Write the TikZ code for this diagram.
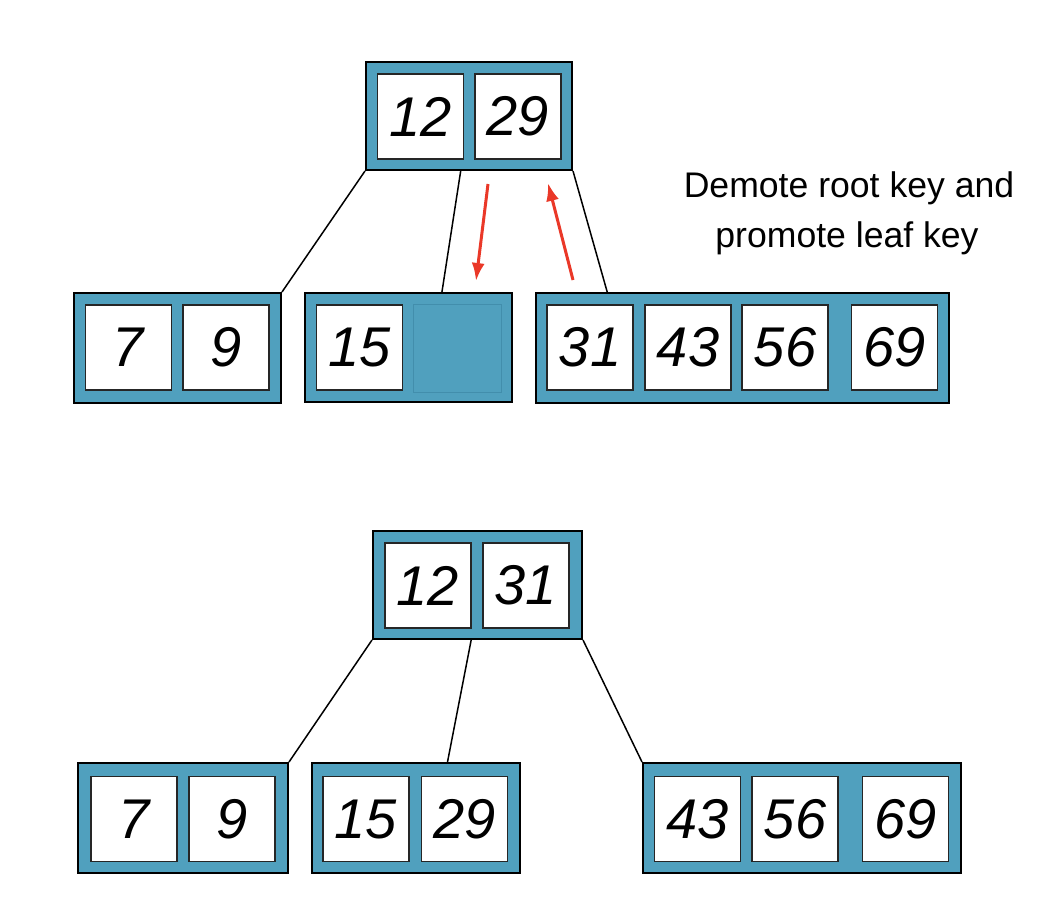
\documentclass[tikz,border=0pt]{standalone}
\usepackage{fontspec}
\setmainfont{Liberation Sans}
\usetikzlibrary{arrows.meta,calc}
\definecolor{nodeblue}{RGB}{80,160,190}
\definecolor{emptyedge}{RGB}{66,142,172}
\definecolor{moveRed}{RGB}{234,56,40}
\tikzset{
  leafbox/.style={draw=black, line width=2pt, fill=nodeblue, inner sep=0pt},
  keycell/.style={draw=black!85, line width=1.8pt, fill=white, inner sep=0pt,
    minimum width=86pt, minimum height=85pt,
    font=\fontsize{56}{60}\selectfont\itshape},
  emptycell/.style={draw=emptyedge, line width=0.8pt, fill=nodeblue, inner sep=0pt,
    minimum width=88pt, minimum height=88pt},
  link/.style={line width=1.5pt, black},
  moveArrow/.style={line width=3pt, moveRed, -{Latex[length=18pt,width=13pt]}},
  noteText/.style={font=\fontsize{35.6}{40}\selectfont, anchor=base}
}
\begin{document}
\begin{tikzpicture}[x=1pt, y=-1pt]
\useasboundingbox (0,0) rectangle (1054,908);
% before: root and leaves
\node[leafbox, minimum width=206pt, minimum height=108pt] (rootA) at (469,116) {};
\node[keycell] (rootA1) at (420.5,116.5) {12};
\node[keycell] (rootA2) at (518,116.5) {29};

\node[leafbox, minimum width=207pt, minimum height=110pt] (leafA1) at (177.5,348) {};
\node[keycell] at (128.5,347.5) {7};
\node[keycell] at (226,347.5) {9};

\node[leafbox, minimum width=207pt, minimum height=109pt] (leafA2) at (408.5,347.5) {};
\node[keycell] (leafA2k) at (359.5,347.5) {15};
\node[emptycell] (leafA2e) at (457,348) {};

\node[leafbox, minimum width=413pt, minimum height=110pt] (leafA3) at (742.5,348) {};
\node[keycell] (leafA3k) at (590,347.5) {31};
\node[keycell] at (688,347.5) {43};
\node[keycell] at (785,347.5) {56};
\node[keycell] at (894.5,347.5) {69};

\draw[link] (rootA.south west) -- (leafA1.north east);
\draw[link] ($(rootA.south west)!0.46!(rootA.south east)$) -- ($(leafA2.north west)!0.66!(leafA2.north east)$);
\draw[link] (rootA.south east) -- ($(leafA3.north west)!0.174!(leafA3.north east)$);

% rotation arrows
\coordinate (downFrom) at (488,184);
\coordinate (downTo) at (476,281);
\coordinate (upFrom) at (573,280);
\coordinate (upTo) at (548,183);
\draw[moveArrow] (downFrom) -- (downTo);
\draw[moveArrow] (upFrom) -- (upTo);

\node[noteText] (note1) at (849,197) {Demote root key and};
\node[noteText] (note2) at (847,247) {promote leaf key};

% after: root and leaves
\node[leafbox, minimum width=209pt, minimum height=108pt] (rootB) at (477.5,585) {};
\node[keycell] at (428,585.5) {12};
\node[keycell] at (526,585.5) {31};

\node[leafbox, minimum width=210pt, minimum height=110pt] (leafB1) at (183,818) {};
\node[keycell] at (134,819) {7};
\node[keycell] at (232,819) {9};

\node[leafbox, minimum width=208pt, minimum height=110pt] (leafB2) at (416,818) {};
\node[keycell] at (366,819) {15};
\node[keycell] at (464.5,819) {29};

\node[leafbox, minimum width=318pt, minimum height=110pt] (leafB3) at (802,818) {};
\node[keycell] at (697.5,819) {43};
\node[keycell] at (795,819) {56};
\node[keycell] at (905.5,819) {69};

\draw[link] (rootB.south west) -- (leafB1.north east);
\draw[link] ($(rootB.south west)!0.47!(rootB.south east)$) -- ($(leafB2.north west)!0.65!(leafB2.north east)$);
\draw[link] (rootB.south east) -- (leafB3.north west);
\end{tikzpicture}
\end{document}
